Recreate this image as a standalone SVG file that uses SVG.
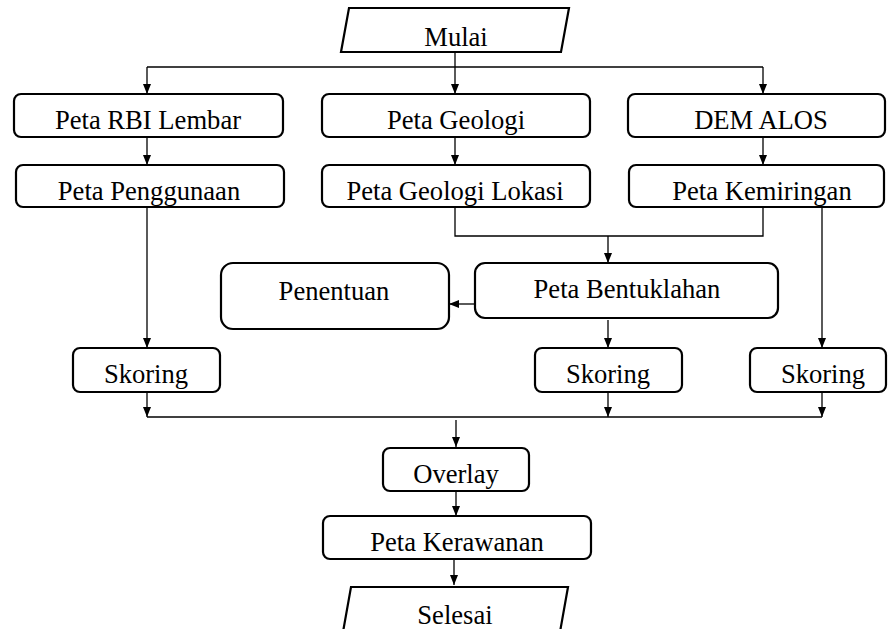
<svg xmlns="http://www.w3.org/2000/svg" width="888" height="629" viewBox="0 0 888 629">
<style>
.box{fill:#fff;stroke:#000;stroke-width:2.2}
.t{font-family:'Liberation Serif',serif;font-size:26.6px;fill:#000;text-anchor:middle}
.c{fill:none;stroke:#000;stroke-width:1.3}
</style>
<defs>
<marker id="ah" markerUnits="userSpaceOnUse" markerWidth="10" markerHeight="10" viewBox="0 0 10 10" refX="10" refY="5" orient="auto">
<path d="M0,1 L10,5 L0,9 Z" fill="#000"/>
</marker>
</defs>
<rect width="888" height="629" fill="#fff"/>
<g id="connectors">
<path class="c" d="M455,52 V94" marker-end="url(#ah)"/>
<path class="c" d="M147,67 H763"/>
<path class="c" d="M147,67 V94" marker-end="url(#ah)"/>
<path class="c" d="M763,67 V94" marker-end="url(#ah)"/>
<path class="c" d="M147,137 V165" marker-end="url(#ah)"/>
<path class="c" d="M455,137 V165" marker-end="url(#ah)"/>
<path class="c" d="M763,137 V165" marker-end="url(#ah)"/>
<path class="c" d="M147,207 V348" marker-end="url(#ah)"/>
<path class="c" d="M455,207 V236 H763 V207"/>
<path class="c" d="M608,236 V263" marker-end="url(#ah)"/>
<path class="c" d="M475,304 H449" marker-end="url(#ah)"/>
<path class="c" d="M608,320 V348" marker-end="url(#ah)"/>
<path class="c" d="M822,207 V348" marker-end="url(#ah)"/>
<path class="c" d="M147,392 V417" marker-end="url(#ah)"/>
<path class="c" d="M608,392 V417" marker-end="url(#ah)"/>
<path class="c" d="M822,392 V417" marker-end="url(#ah)"/>
<path class="c" d="M147,417 H822"/>
<path class="c" d="M456,420 V447" marker-end="url(#ah)"/>
<path class="c" d="M456,491 V516" marker-end="url(#ah)"/>
<path class="c" d="M454,559 V585" marker-end="url(#ah)"/>
</g>
<g id="mulai">
<polygon class="box" points="349,8 569,8 561,52 341,52"/>
<text class="t" x="456" y="46">Mulai</text>
</g>
<g id="rbi">
<rect class="box" x="14" y="94" width="269" height="43" rx="7"/>
<text class="t" x="148" y="129">Peta RBI Lembar</text>
</g>
<g id="geologi">
<rect class="box" x="322" y="94" width="268" height="43" rx="7"/>
<text class="t" x="456" y="129">Peta Geologi</text>
</g>
<g id="dem">
<rect class="box" x="628" y="94" width="257" height="43" rx="7"/>
<text class="t" x="761" y="129">DEM ALOS</text>
</g>
<g id="penggunaan">
<rect class="box" x="16" y="165" width="268" height="42" rx="7"/>
<text class="t" x="149" y="200">Peta Penggunaan</text>
</g>
<g id="geologi-lokasi">
<rect class="box" x="322" y="165" width="268" height="42" rx="7"/>
<text class="t" x="455" y="200">Peta Geologi Lokasi</text>
</g>
<g id="kemiringan">
<rect class="box" x="629" y="165" width="255" height="42" rx="7"/>
<text class="t" x="762" y="200">Peta Kemiringan</text>
</g>
<g id="penentuan">
<rect class="box" x="221" y="263" width="228" height="66" rx="12"/>
<text class="t" x="334" y="300">Penentuan</text>
</g>
<g id="bentuklahan">
<rect class="box" x="475" y="263" width="303" height="55" rx="10"/>
<text class="t" x="627" y="298">Peta Bentuklahan</text>
</g>
<g id="skoring1">
<rect class="box" x="73" y="348" width="147" height="44" rx="7"/>
<text class="t" x="146" y="383">Skoring</text>
</g>
<g id="skoring2">
<rect class="box" x="535" y="348" width="147" height="44" rx="7"/>
<text class="t" x="608" y="383">Skoring</text>
</g>
<g id="skoring3">
<rect class="box" x="750" y="348" width="136" height="44" rx="7"/>
<text class="t" x="823" y="383">Skoring</text>
</g>
<g id="overlay">
<rect class="box" x="383" y="448" width="146" height="43" rx="7"/>
<text class="t" x="456" y="483">Overlay</text>
</g>
<g id="kerawanan">
<rect class="box" x="323" y="516" width="268" height="43" rx="7"/>
<text class="t" x="457" y="551">Peta Kerawanan</text>
</g>
<g id="selesai">
<polygon class="box" points="351,587 568,587 560,632 343,632"/>
<text class="t" x="455" y="624">Selesai</text>
</g>
</svg>
